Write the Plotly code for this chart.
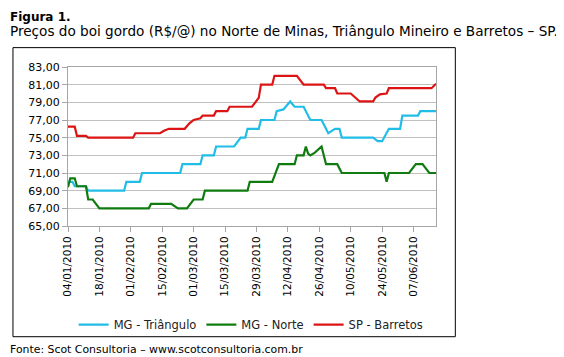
import plotly.graph_objects as go

# ---------------- data ----------------
tri_dates = ["2010-01-04","2010-01-06","2010-01-07","2010-01-12","2010-01-13","2010-01-29","2010-01-30",
             "2010-02-05","2010-02-06","2010-02-23","2010-02-24","2010-03-04","2010-03-05","2010-03-10",
             "2010-03-11","2010-03-19","2010-03-22","2010-03-24","2010-03-25","2010-03-30","2010-03-31",
             "2010-04-06","2010-04-07","2010-04-10","2010-04-13","2010-04-15","2010-04-19","2010-04-22",
             "2010-04-27","2010-04-30","2010-05-03","2010-05-05","2010-05-06","2010-05-20","2010-05-22",
             "2010-05-24","2010-05-27","2010-06-01","2010-06-02","2010-06-09","2010-06-10","2010-06-17"]
tri_vals = [70.0,70.0,69.5,69.5,69.0,69.0,70.0,
            70.0,71.0,71.0,72.0,72.0,73.0,73.0,
            74.0,74.0,75.0,75.0,76.0,76.0,77.0,
            77.0,78.0,78.2,79.1,78.5,78.5,77.0,
            77.0,75.5,76.0,76.0,75.0,75.0,74.6,
            74.6,76.0,76.0,77.5,77.5,78.0,78.0]

norte_dates = ["2010-01-04","2010-01-05","2010-01-07","2010-01-08","2010-01-12","2010-01-13","2010-01-15",
               "2010-01-18","2010-02-09","2010-02-10","2010-02-19","2010-02-22","2010-02-26","2010-03-01",
               "2010-03-05","2010-03-06","2010-03-25","2010-03-26","2010-04-05","2010-04-08","2010-04-15",
               "2010-04-16","2010-04-19","2010-04-20","2010-04-21","2010-04-22","2010-04-24","2010-04-27",
               "2010-04-29","2010-05-04","2010-05-06","2010-05-25","2010-05-26","2010-05-27","2010-06-05",
               "2010-06-08","2010-06-11","2010-06-14","2010-06-17"]
norte_vals = [69.4,70.4,70.4,69.5,69.5,68.0,68.0,
              67.0,67.0,67.5,67.5,67.0,67.0,68.0,
              68.0,69.0,69.0,70.0,70.0,72.0,72.0,
              73.0,73.0,74.0,73.2,73.0,73.3,74.0,
              72.0,72.0,71.0,71.0,70.0,71.0,71.0,
              72.0,72.0,71.0,71.0]

barretos_dates = ["2010-01-04","2010-01-07","2010-01-08","2010-01-12","2010-01-13","2010-02-02","2010-02-03",
                  "2010-02-14","2010-02-16","2010-02-18","2010-02-25","2010-02-27","2010-03-01","2010-03-04",
                  "2010-03-05","2010-03-10","2010-03-11","2010-03-16","2010-03-17","2010-03-27","2010-03-30",
                  "2010-03-31","2010-04-05","2010-04-06","2010-04-16","2010-04-19","2010-04-28","2010-04-29",
                  "2010-05-03","2010-05-04","2010-05-10","2010-05-14","2010-05-20","2010-05-21","2010-05-23",
                  "2010-05-26","2010-05-27","2010-06-15","2010-06-17"]
barretos_vals = [76.25,76.25,75.2,75.2,75.0,75.0,75.5,
                 75.5,75.8,76.0,76.0,76.6,77.0,77.2,
                 77.5,77.5,78.0,78.0,78.5,78.5,79.5,
                 81.0,81.0,82.0,82.0,81.0,81.0,80.6,
                 80.6,80.0,80.0,79.1,79.1,79.55,79.9,
                 80.0,80.6,80.6,81.1]

series_names = ["MG - Triângulo", "MG - Norte", "SP - Barretos"]
series_colors = ["#22bde6", "#107c10", "#dc1414"]

x_tick_vals = ["2010-01-04","2010-01-18","2010-02-01","2010-02-15","2010-03-01","2010-03-15",
               "2010-03-29","2010-04-12","2010-04-26","2010-05-10","2010-05-24","2010-06-07"]
x_tick_text = ["04/01/2010","18/01/2010","01/02/2010","15/02/2010","01/03/2010","15/03/2010",
               "29/03/2010","12/04/2010","26/04/2010","10/05/2010","24/05/2010","07/06/2010"]
y_tick_vals = [65, 67, 69, 71, 73, 75, 77, 79, 81, 83]

title_text = "Figura 1."
subtitle_text = "Preços do boi gordo (R$/@) no Norte de Minas, Triângulo Mineiro e Barretos – SP."
footer_text = "Fonte: Scot Consultoria – www.scotconsultoria.com.br"

# ---------------- figure ----------------
# page has an 8px body margin: the figure is drawn from page (8, 8)
OFF = 8
PAGE_W, PAGE_H = 564, 357
W, H = PAGE_W - OFF, PAGE_H - OFF
# plot area in page pixels
PL, PR, PT, PB = 68, 435.7, 67.3, 225.7
L = PL - OFF
R = W - (PR - OFF)
T = PT - OFF
B = H - (PB - OFF)

def px_x(px):  # page px -> paper
    return (px - PL) / (PR - PL)

def px_y(py):  # page px -> paper
    return (PB - py) / (PB - PT)

FONT = "DejaVu Sans"

fig = go.Figure()
for name, color, xs, ys in zip(series_names, series_colors,
                               [tri_dates, norte_dates, barretos_dates],
                               [tri_vals, norte_vals, barretos_vals]):
    fig.add_trace(go.Scatter(x=xs, y=ys, name=name, mode="lines",
                             line=dict(color=color, width=2.2)))

fig.update_layout(
    width=W, height=H,
    margin=dict(l=L, r=R, t=T, b=B, pad=0),
    paper_bgcolor="white", plot_bgcolor="white",
    separators=",.",
    font=dict(family=FONT, size=11, color="#000000"),
    showlegend=True,
    legend=dict(orientation="h", x=px_x(251), xanchor="center", y=px_y(324), yanchor="middle",
                font=dict(family=FONT, size=11.5, color="#222222"),
                itemwidth=30, tracegroupgap=0, bgcolor="rgba(0,0,0,0)"),
    xaxis=dict(
        type="date",
        range=["2010-01-04", "2010-06-17"],
        tickmode="array", tickvals=x_tick_vals, ticktext=x_tick_text,
        tickangle=-90,
        tickfont=dict(family=FONT, size=10.5, color="#000000"),
        ticks="outside", ticklen=5, tickcolor="#a6a6a6",
        showgrid=False,
        showline=True, linecolor="#a6a6a6", linewidth=1, mirror=True,
        zeroline=False,
    ),
    yaxis=dict(
        range=[65, 83],
        tickmode="array", tickvals=y_tick_vals,
        tickformat=".2f",
        tickfont=dict(family=FONT, size=11, color="#000000"),
        ticks="outside", ticklen=5, tickcolor="#a6a6a6",
        showgrid=True, gridcolor="#c0c0c0", gridwidth=1,
        showline=True, linecolor="#a6a6a6", linewidth=1, mirror=True,
        zeroline=False,
    ),
)

# outer chart border
fig.add_shape(type="rect", xref="paper", yref="paper",
              x0=px_x(13), x1=px_x(455), y0=px_y(336), y1=px_y(48),
              line=dict(color="#000000", width=1), fillcolor="rgba(0,0,0,0)", layer="below")

fig.add_annotation(text="<b>" + title_text + "</b>", xref="paper", yref="paper",
                   x=px_x(8), y=px_y(8.5), xanchor="left", yanchor="top",
                   showarrow=False, font=dict(family=FONT, size=12, color="#000000"))
fig.add_annotation(text=subtitle_text, xref="paper", yref="paper",
                   x=px_x(8), y=px_y(31), xanchor="left", yanchor="middle",
                   showarrow=False, font=dict(family=FONT, size=13.6, color="#000000"))
fig.add_annotation(text=footer_text, xref="paper", yref="paper",
                   x=px_x(8), y=px_y(349), xanchor="left", yanchor="middle",
                   showarrow=False, font=dict(family=FONT, size=10.9, color="#000000"))

fig.write_html("out.html")
